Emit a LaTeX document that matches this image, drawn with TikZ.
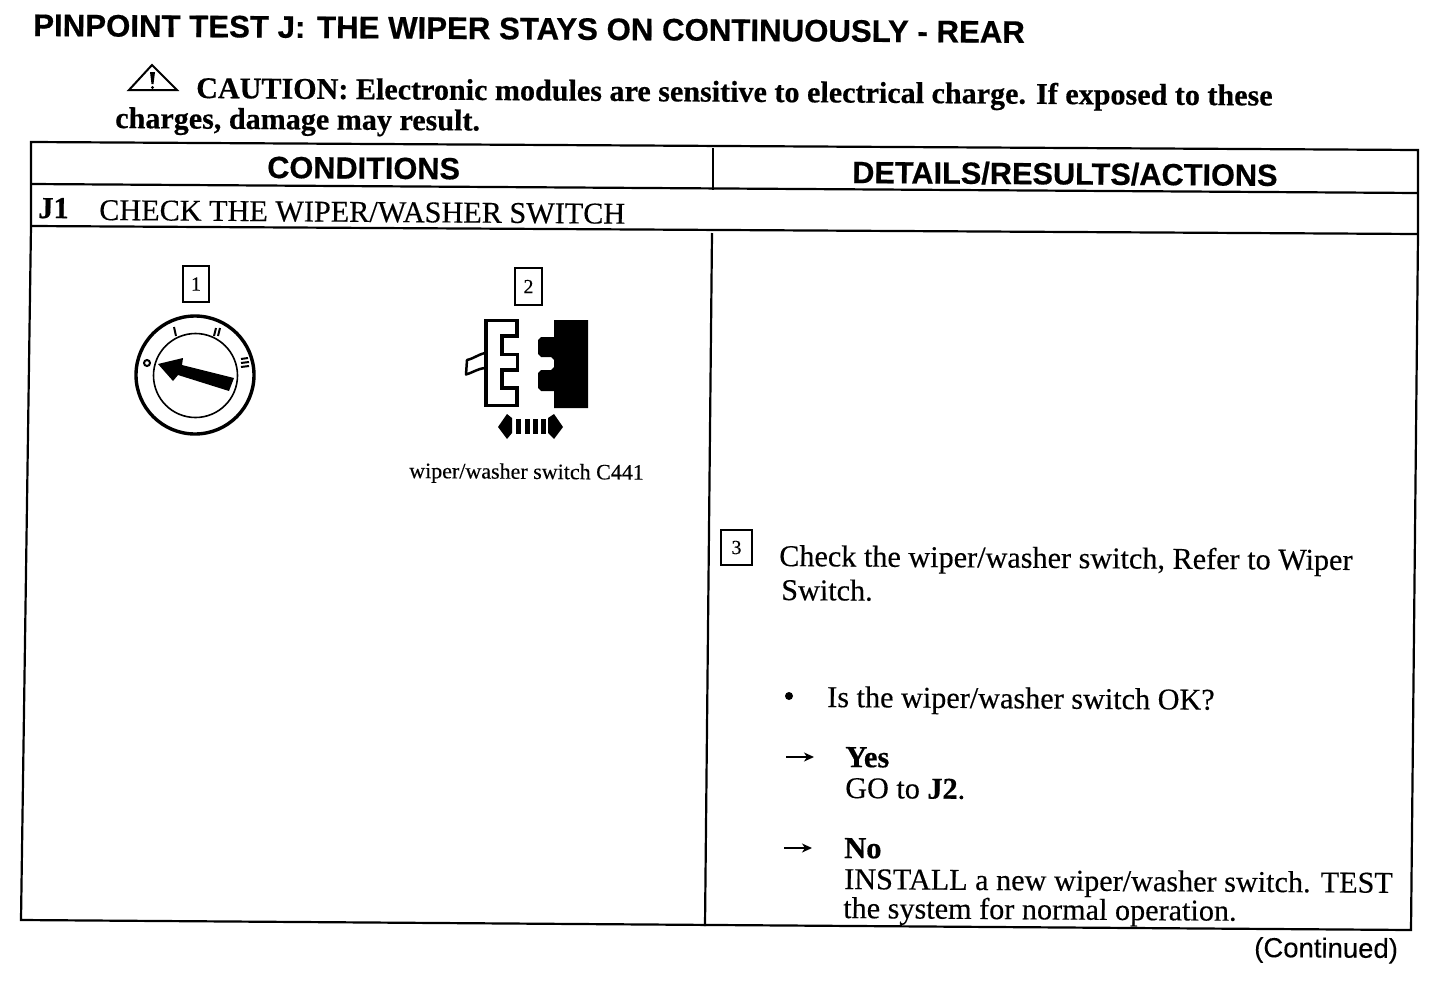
\documentclass[tikz,border=0pt]{standalone}
\usepackage{fontspec}
\usetikzlibrary{arrows.meta}
\setmainfont{Liberation Serif}[UprightFeatures={FakeBold=0.3},BoldFeatures={FakeBold=0.5}]
\setsansfont{Liberation Sans}[UprightFeatures={FakeBold=0.2},BoldFeatures={FakeBold=0.5}]
\begin{document}
\begin{tikzpicture}[x=1pt,y=-1pt,
  tbl/.style={line width=2.2pt,black},
  thin box/.style={draw,line width=1.3pt,minimum width=0pt,inner sep=0pt},
  txt/.style={anchor=base west,inner sep=0pt,rotate=-0.4,align=left},
  head/.style={txt,font=\sffamily\bfseries\fontsize{30.7}{32}\selectfont},
  body/.style={txt,font=\fontsize{30.2}{32}\selectfont},
  bodyb/.style={txt,font=\bfseries\fontsize{30.5}{32}\selectfont},
  caut/.style={txt,font=\bfseries\fontsize{30.1}{32}\selectfont},
  num/.style={anchor=center,inner sep=0pt,font=\fontsize{20}{22}\selectfont}]
\useasboundingbox (0,0) rectangle (1456,980);
\fill[white] (0,0) rectangle (1456,980);

% text above the table
\node[head,font=\sffamily\bfseries\fontsize{31.2}{32}\selectfont] (title) at (33,36) {PINPOINT TEST J:\hspace{3pt} THE WIPER STAYS ON CONTINUOUSLY - REAR};
\node[caut] (c1) at (196,98) {CAUTION: Electronic modules are sensitive to electrical charge. If exposed to these};
\node[caut] (c2) at (115,128) {charges, damage may result.};

% caution triangle
\draw[line width=2pt,line join=miter] (129,90) -- (152,65) -- (177,90) -- cycle;
\fill (150,72) -- (155,72) -- (153.5,84) -- (151.5,84) -- cycle;
\fill (152.5,87.5) circle (1.6);

% table
\coordinate (tl) at (31,142); \coordinate (tr) at (1418,150);
\coordinate (ml) at (31,184); \coordinate (mr) at (1418,193);
\coordinate (nl) at (31,226); \coordinate (nr) at (1418,234);
\coordinate (bl) at (21,920); \coordinate (br) at (1411,930);
\coordinate (vt) at (713,148); \coordinate (vh) at (713,190);
\coordinate (vm) at (712,233); \coordinate (vb) at (705,926);
\draw[tbl] (tl) -- (tr) -- (mr) -- (nr) -- (br) -- (bl) -- (nl) -- (ml) -- cycle;
\draw[tbl] (ml) -- (mr);
\draw[tbl] (nl) -- (nr);
\draw[tbl] (vt) -- (vh);
\draw[tbl] (vm) -- (vb);

\node[head] (h1) at (267,178) {CONDITIONS};
\node[head] (h2) at (852,183) {DETAILS/RESULTS/ACTIONS};
\node[bodyb] (j1) at (38,218) {J1};
\node[body] (j1t) at (99,220) {CHECK THE WIPER/WASHER SWITCH};

% callout 1 and switch dial
\node[thin box,minimum width=26pt,minimum height=36pt] (n1) at (196,284) {};
\node[num] at (n1) {1};
\draw[line width=3.4pt] (195,375) circle (59);
\draw[line width=1.6pt] (195.5,375.5) circle (42);
\fill (234,378) -- (229,391) -- (178,375) -- (173,381) -- (158,364) -- (183,358) -- (182,365) -- cycle;
\draw[line width=2pt] (147,363) circle (3);
\draw[line width=2pt] (174,327) -- (176,336);
\draw[line width=2pt] (216,328) -- (214,336) (220,328) -- (218,336);
\draw[line width=2pt] (241,359) -- (248,358) (241,363) -- (249,362) (241,367) -- (249,366);

% callout 2 and connector
\node[thin box,minimum width=27pt,minimum height=37pt] (n2) at (528.5,286.5) {};
\node[num] at (n2) {2};
\draw[line width=3.5pt,line join=miter,fill=white] (486,320.5) -- (517,320.5) -- (517,336) -- (502,336) -- (502,354.5) -- (517.5,354.5) -- (517.5,370) -- (502,370) -- (502,388) -- (517,388) -- (517,405.5) -- (486,405.5) -- cycle;
\draw[line width=2.5pt,line join=round] (485,353) .. controls (477,355) and (475,358) .. (467,360) -- (466,374.5) .. controls (474,372) and (477,369) .. (485,368);
\fill (554,320) -- (588,320) -- (588,408) -- (554,408) -- (554,391) -- (541,391) -- (538,388) -- (538,373) -- (541,370) -- (551,370) -- (554,367) -- (554,360) -- (551,357) -- (541,357) -- (538,354) -- (538,340) -- (541,337) -- (554,337) -- cycle;
\fill (498,427) -- (507,414) -- (512,418) -- (512,433) -- (507,439) -- cycle;
\fill (563,427) -- (554,414) -- (548,418) -- (548,433) -- (554,439) -- cycle;
\foreach \x in {516,525,533,541} \fill (\x,418.5) rectangle +(5,15);
\node[txt,font=\fontsize{22}{24}\selectfont] (cap) at (409,478) {wiper/washer switch C441};

% callout 3 and details
\node[thin box,minimum width=31pt,minimum height=35pt] (n3) at (736.5,547.5) {};
\node[num] at (n3) {3};
\node[body] (d1) at (779,566) {Check the wiper/washer switch, Refer to Wiper};
\node[body] (d2) at (781,600) {Switch.};
\fill (789,696) circle (4);
\node[body] (q) at (827,707) {Is the wiper/washer switch OK?};

\coordinate (a1s) at (786,757); \coordinate (a1e) at (814,757);
\coordinate (a2s) at (784,848); \coordinate (a2e) at (812,848);
\draw[line width=1.8pt,-{Stealth[length=10pt,width=9pt,inset=3pt]}] (a1s) -- (a1e);
\draw[line width=1.8pt,-{Stealth[length=10pt,width=9pt,inset=3pt]}] (a2s) -- (a2e);

\node[bodyb] (y1) at (845,767) {Yes};
\node[body] (y2) at (845,798) {GO to \textbf{J2}.};
\node[bodyb] (n1t) at (844,858) {No};
\node[body] (n2t) at (844,889) {INSTALL a new wiper/washer switch. TEST};
\node[body] (n3t) at (843,918) {the system for normal operation.};
\node[txt,font=\sffamily\fontsize{27.5}{30}\selectfont] (cont) at (1254,957) {(Continued)};
\end{tikzpicture}
\end{document}
